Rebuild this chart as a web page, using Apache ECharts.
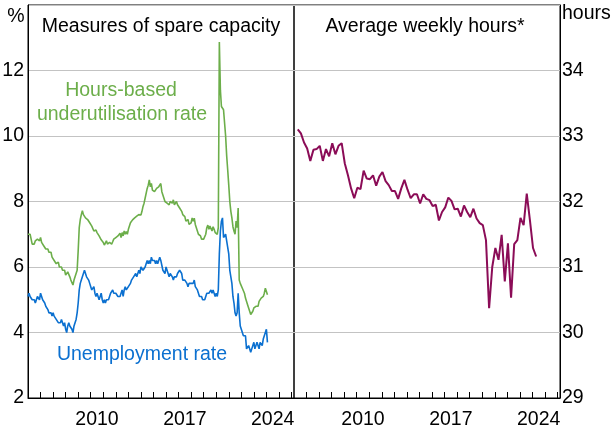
<!DOCTYPE html>
<html><head><meta charset="utf-8">
<script src="https://cdn.jsdelivr.net/npm/echarts@6/dist/echarts.min.js"></script>
<style>html,body{margin:0;padding:0;background:#fff}#c{width:614px;height:426px}</style>
</head><body><div id="c"></div>
<script>
// ---- DATA ----
// Monthly, Jan 2005 – Feb 2024 (%)
const unemploymentRate = [
 5.1,5.2,5.1,5.1,5.0,5.0,5.0,4.9,5.0,5.1,5.1,5.0,
 5.2,5.1,5.0,5.0,4.9,4.8,4.8,4.7,4.6,4.6,4.6,4.5,
 4.6,4.5,4.5,4.4,4.4,4.3,4.3,4.3,4.4,4.3,4.2,4.3,
 4.1,4.0,4.2,4.3,4.2,4.2,4.1,4.0,4.2,4.3,4.4,4.6,
 4.9,5.3,5.5,5.6,5.7,5.8,5.9,5.8,5.7,5.7,5.6,5.5,
 5.4,5.3,5.3,5.4,5.2,5.1,5.2,5.1,5.0,5.1,5.2,5.0,
 4.9,5.0,4.9,5.0,5.0,5.0,5.1,5.2,5.2,5.3,5.2,5.2,
 5.2,5.2,5.1,5.1,5.1,5.2,5.3,5.1,5.3,5.4,5.3,5.3,
 5.4,5.4,5.5,5.6,5.6,5.7,5.7,5.8,5.7,5.8,5.9,5.8,
 6.0,6.0,5.9,5.9,6.0,6.1,6.2,6.1,6.2,6.1,6.3,6.2,
 6.2,6.2,6.1,6.2,6.1,6.1,6.3,6.2,6.2,5.9,5.9,5.8,
 6.0,5.9,5.8,5.7,5.8,5.8,5.7,5.6,5.7,5.7,5.7,5.8,
 5.8,5.9,5.9,5.8,5.6,5.6,5.6,5.6,5.5,5.4,5.5,5.5,
 5.5,5.5,5.5,5.6,5.4,5.4,5.3,5.3,5.1,5.1,5.1,5.0,
 5.0,5.0,5.1,5.2,5.2,5.2,5.2,5.3,5.2,5.3,5.2,5.1,
 5.2,5.1,5.3,6.4,7.1,7.4,7.5,6.9,6.9,7.0,6.8,6.6,
 6.4,5.9,5.7,5.5,5.1,4.9,4.6,4.5,4.6,5.2,4.6,4.2,
 4.2,4.0,3.9,3.9,3.9,3.5,3.5,3.6,3.6,3.4,3.5,3.5,
 3.7,3.5,3.5,3.7,3.6,3.5,3.7,3.7,3.6,3.8,3.9,3.9,
 4.1,3.7
];
const underutilisationRate = [
 7.0,6.95,7.0,6.85,6.7,6.75,6.7,6.8,6.75,6.85,6.9,6.8,
 6.9,6.75,6.8,6.65,6.6,6.55,6.5,6.55,6.45,6.4,6.45,6.3,
 6.35,6.2,6.25,6.1,6.05,6.15,6.0,5.95,6.0,5.9,5.95,5.9,
 5.75,5.7,5.85,5.8,5.7,5.6,5.55,5.45,5.6,5.7,5.75,5.9,
 6.5,7.2,7.45,7.6,7.72,7.6,7.65,7.5,7.55,7.45,7.4,7.35,
 7.3,7.25,7.2,7.1,7.15,7.13,7.05,7.0,6.95,6.9,6.83,6.85,
 6.75,6.67,6.7,6.8,6.7,6.65,6.75,6.8,6.7,6.77,6.85,6.8,
 6.9,6.85,6.95,7.0,7.03,6.9,7.05,6.95,7.1,7.0,7.08,7.0,
 7.15,7.2,7.35,7.3,7.44,7.4,7.5,7.45,7.55,7.5,7.6,7.55,
 7.59,7.7,7.85,7.95,8.1,8.15,8.4,8.5,8.66,8.45,8.55,8.35,
 8.4,8.3,8.25,8.4,8.35,8.45,8.5,8.55,8.3,8.2,8.1,8.0,
 8.05,7.95,8.0,7.9,8.0,8.05,7.95,8.05,7.9,7.95,8.0,7.9,
 7.95,7.8,7.85,7.7,7.6,7.55,7.54,7.4,7.35,7.45,7.3,7.28,
 7.35,7.5,7.4,7.49,7.3,7.2,7.15,7.0,7.03,6.95,6.85,6.9,
 6.85,6.83,7.0,7.2,7.28,7.15,7.25,7.2,7.1,7.23,7.15,7.05,
 7.08,7.0,7.2,12.87,11.4,10.9,10.85,10.8,10.75,10.0,9.4,8.96,
 8.5,8.0,7.7,7.5,7.23,7.1,7.0,7.4,7.2,7.8,5.6,5.5,
 5.5,5.35,5.3,5.2,5.05,5.0,4.85,4.75,4.7,4.55,4.6,4.65,
 4.75,4.7,4.8,4.85,4.8,4.95,4.9,5.05,5.0,5.1,5.2,5.35,
 5.4,5.15
];
const monthlyStart = 2005;      // Jan 2005
// Quarterly average weekly hours
const averageWeeklyHours = [
 33.10,33.04,32.90,32.81,32.62,32.79,32.80,32.85,32.62,32.80,
 32.69,32.89,32.72,32.85,32.89,32.58,32.40,32.20,32.05,32.21,
 32.19,32.47,32.35,32.34,32.40,32.24,32.38,32.45,32.31,32.25,
 32.16,32.16,32.04,32.20,32.33,32.18,32.05,32.11,32.11,31.97,
 32.11,32.04,32.02,31.93,31.95,31.71,31.84,31.91,32.06,32.01,
 31.88,31.89,31.77,31.94,31.84,31.76,31.89,31.74,31.67,31.64,
 31.41,30.37,31.00,31.29,31.11,31.49,30.78,31.36,30.53,31.35,
 31.41,31.75,31.64,32.12,31.72,31.29,31.16
];
const quarterlyStart = 2005.3;
const tickYears = [2006,2007,2008,2009,2010,2011,2012,2013,2014,2015,2016,2017,2018,2019,2020,2021,2022,2023,2024,2025,2026];
const labelYears = [2010, 2017, 2024];

// ---- BUILD ----
const monthly = arr => arr.map((v, i) => [monthlyStart + i / 12, v]);
const quarterly = arr => arr.map((v, i) => [quarterlyStart + i * 0.25, v]);

const FONT = '"Liberation Sans", Arial, Helvetica, sans-serif';
const FS = 19.5;
const GREEN = '#6cae4a', BLUE = '#0b70d0', PURPLE = '#8b0c57';
const GRIDC = '#c3c3c3';

function xAxis(gi) {
  return {
    type: 'value', gridIndex: gi, min: 2005, max: 2026.2,
    axisLine: { show: true, lineStyle: { color: '#000', width: 1 } },
    axisTick: { show: true, inside: true, length: 6, customValues: tickYears, lineStyle: { color: '#000', width: 1 } },
    axisLabel: { show: true, customValues: labelYears.map(y => y + 0.5), formatter: v => String(Math.floor(v)),
      color: '#000', fontFamily: FONT, fontSize: FS, margin: 12 },
    splitLine: { show: false }
  };
}

const gridBase = { top: 5, width: 266, height: 393, show: true, borderColor: '#000', borderWidth: 1,
  backgroundColor: 'transparent', containLabel: false, outerBoundsMode: 'none' };

const chart = echarts.init(document.getElementById('c'), null, { renderer: 'canvas' });
chart.setOption({
  animation: false,
  backgroundColor: '#fff',
  grid: [
    Object.assign({ left: 28 }, gridBase),
    Object.assign({ left: 294 }, gridBase)
  ],
  xAxis: [xAxis(0), xAxis(1)],
  yAxis: [
    { type: 'value', gridIndex: 0, min: 2, max: 14, interval: 2, position: 'left',
      axisLine: { show: true, lineStyle: { color: '#000' } }, axisTick: { show: false },
      axisLabel: { color: '#000', fontFamily: FONT, fontSize: FS, margin: 4, padding: [3, 0, 0, 0], formatter: v => v === 14 ? '' : String(v) },
      splitLine: { show: true, lineStyle: { color: GRIDC, width: 1 } } },
    { type: 'value', gridIndex: 1, min: 29, max: 35, interval: 1, position: 'right',
      axisLine: { show: true, lineStyle: { color: '#000' } }, axisTick: { show: false },
      axisLabel: { color: '#000', fontFamily: FONT, fontSize: FS, margin: 2, padding: [3, 0, 0, 0], formatter: v => v === 35 ? '' : String(v) },
      splitLine: { show: true, lineStyle: { color: GRIDC, width: 1 } } }
  ],
  series: [
    { type: 'line', name: 'Hours-based underutilisation rate', xAxisIndex: 0, yAxisIndex: 0, data: monthly(underutilisationRate),
      showSymbol: false, symbol: 'none', lineStyle: { color: GREEN, width: 1.6 }, z: 3 },
    { type: 'line', name: 'Unemployment rate', xAxisIndex: 0, yAxisIndex: 0, data: monthly(unemploymentRate),
      showSymbol: false, symbol: 'none', lineStyle: { color: BLUE, width: 1.6 }, z: 4 },
    { type: 'line', name: 'Average weekly hours', xAxisIndex: 1, yAxisIndex: 1, data: quarterly(averageWeeklyHours),
      showSymbol: false, symbol: 'none', lineStyle: { color: PURPLE, width: 2 }, z: 3 }
  ],
  graphic: [
    { type: 'text', x: 161, y: 27, style: { text: 'Measures of spare capacity', fill: '#000', font: FS + 'px ' + FONT, align: 'center', verticalAlign: 'middle' } },
    { type: 'text', x: 425, y: 27, style: { text: 'Average weekly hours*', fill: '#000', font: FS + 'px ' + FONT, align: 'center', verticalAlign: 'middle' } },
    { type: 'text', x: 16, y: 17, style: { text: '%', fill: '#000', font: FS + 'px ' + FONT, align: 'center', verticalAlign: 'middle' } },
    { type: 'text', x: 562, y: 14, style: { text: 'hours', fill: '#000', font: FS + 'px ' + FONT, align: 'left', verticalAlign: 'middle' } },
    { type: 'text', x: 121, y: 91, style: { text: 'Hours-based', fill: GREEN, font: FS + 'px ' + FONT, align: 'center', verticalAlign: 'middle' } },
    { type: 'text', x: 122, y: 115, style: { text: 'underutilisation rate', fill: GREEN, font: FS + 'px ' + FONT, align: 'center', verticalAlign: 'middle' } },
    { type: 'text', x: 142, y: 355, style: { text: 'Unemployment rate', fill: BLUE, font: FS + 'px ' + FONT, align: 'center', verticalAlign: 'middle' } }
  ]
});
</script>
</body></html>
